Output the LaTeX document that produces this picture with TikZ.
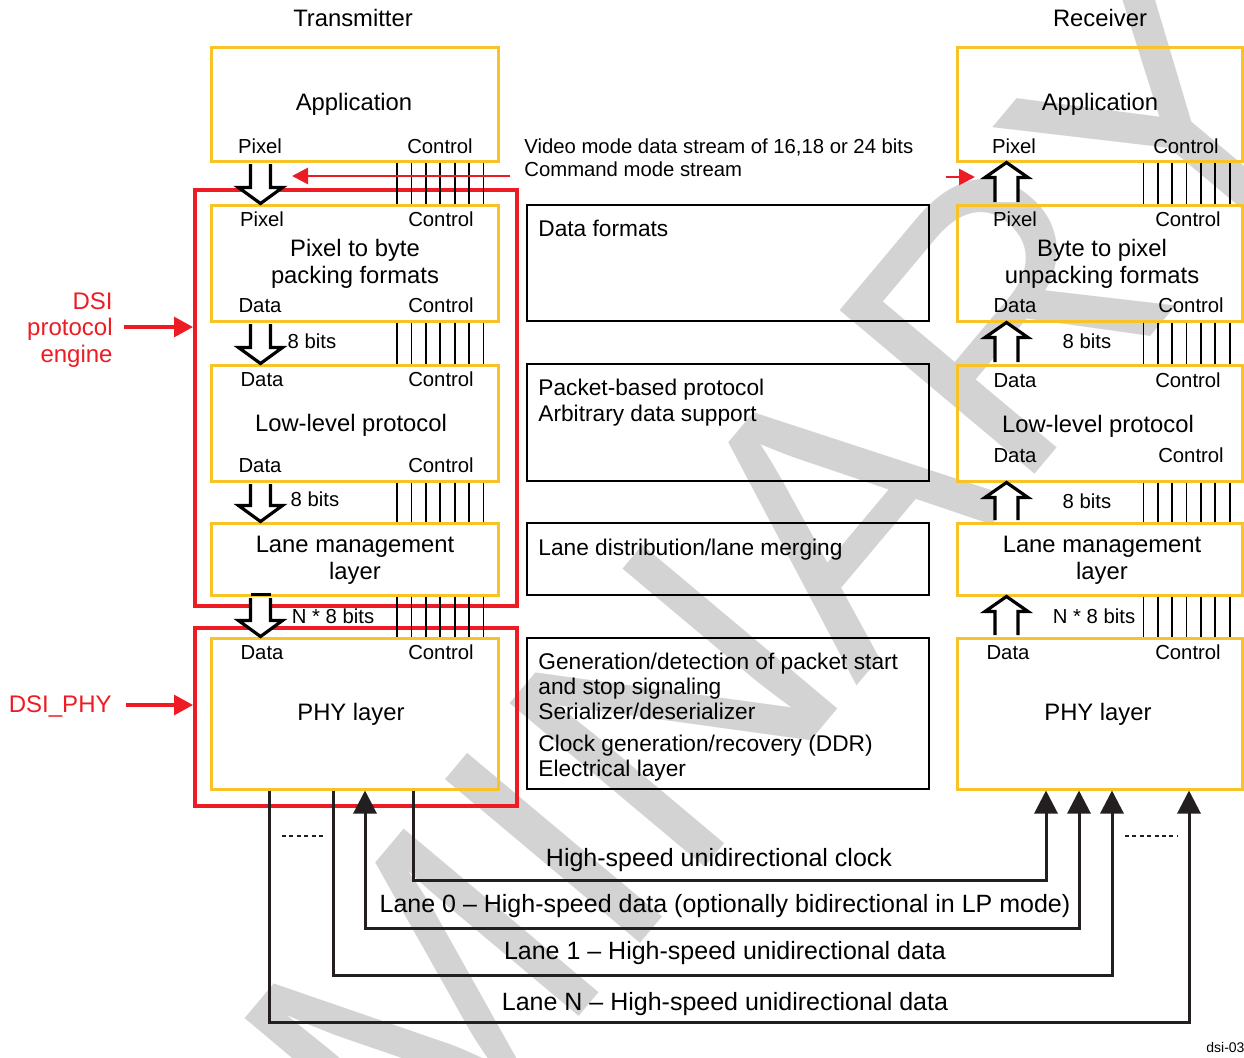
\documentclass[tikz,border=0pt]{standalone}
\usepackage{fontspec}
\setmainfont{Liberation Sans}
\usepackage{tikz}
\usetikzlibrary{arrows.meta,positioning,calc}
\definecolor{LayerYellow}{HTML}{F8C326}
\definecolor{EngineRed}{HTML}{ED1C24}
\definecolor{WireBlack}{HTML}{231F20}
\definecolor{MarkGray}{HTML}{D3D3D3}

\newcommand{\blkdown}[3]{%
  \draw[blk] ($(#1.south -| #3)+(-10,1.5)$) -- ($(#2.north -| #3)+(-10,-16)$) -- ($(#2.north -| #3)+(-22,-16)$) -- (#2.north -| #3) -- ($(#2.north -| #3)+(22,-16)$) -- ($(#2.north -| #3)+(10,-16)$) -- ($(#1.south -| #3)+(10,1.5)$);}
\newcommand{\blkup}[3]{%
  \draw[blk] ($(#1.north -| #3)+(-11.5,-1.5)$) -- ($(#2.south -| #3)+(-11.5,15)$) -- ($(#2.south -| #3)+(-21.5,15)$) -- (#2.south -| #3) -- ($(#2.south -| #3)+(21.5,15)$) -- ($(#2.south -| #3)+(11.5,15)$) -- ($(#1.north -| #3)+(11.5,-1.5)$);}

\begin{document}
\begin{tikzpicture}[x=0.5pt,y=-0.5pt,
  ybox/.style={draw=LayerYellow,line width=1.5pt,inner sep=0pt},
  tbox/.style={draw=black,line width=0.7pt,minimum width=201pt,inner sep=0pt},
  rbox/.style={draw=EngineRed,line width=2pt,minimum width=161pt,inner sep=0pt},
  lbl/.style={inner sep=0pt,anchor=base,font=\fontsize{10.15}{11.5}\selectfont},
  ttl/.style={inner sep=0pt,anchor=base,align=center,font=\fontsize{11.9}{13.5}\selectfont},
  desc/.style={inner sep=0pt,anchor=base west,align=left,font=\fontsize{11.35}{12.5}\selectfont},
  lane/.style={inner sep=0pt,anchor=base,font=\fontsize{12.5}{14}\selectfont},
  note/.style={inner sep=0pt,anchor=base east,align=right,text=EngineRed,font=\fontsize{12}{13.3}\selectfont},
  blk/.style={draw=black,fill=white,line width=1.6pt,line join=miter},
  ctl/.style={draw=black,line width=0.9pt},
  wire/.style={draw=WireBlack,line width=1.5pt},
  wtip/.style={arrows={-Triangle[length=11.5pt,width=11.5pt]}},
  wboth/.style={arrows={Triangle[length=11.5pt,width=11.5pt]-Triangle[length=11.5pt,width=11.5pt]}},
  redarr/.style={draw=EngineRed,line width=1.6pt,arrows={-Triangle[length=9.5pt,width=10pt]}},
  redsm/.style={draw=EngineRed,line width=1.4pt,arrows={-Triangle[length=8pt,width=8pt]}},
  dotl/.style={draw=WireBlack,line width=1pt,dash pattern=on 2pt off 1.7pt}
]
\useasboundingbox (0,0) rectangle (1244,1057);
\node[rotate=50,text=MarkGray,inner sep=0pt,font=\fontsize{185}{185}\selectfont] (wm) at (440,985) {PRELIMINARY};

\node[rbox,minimum height=208pt] (dsieng) at (356,398) {};
\node[rbox,minimum height=89pt] (dsiphy) at (356,717) {};

\node[ybox,minimum width=143.5pt,minimum height=57pt] (txapp) at (354.5,104) {};
\node[ybox,minimum width=143.5pt,minimum height=58pt] (txpack) at (354.5,263) {};
\node[ybox,minimum width=143.5pt,minimum height=58pt] (txllp) at (354.5,423) {};
\node[ybox,minimum width=143.5pt,minimum height=36pt] (txlane) at (354.5,559) {};
\node[ybox,minimum width=143.5pt,minimum height=75.5pt] (txphy) at (354.5,713.5) {};

\node[tbox,minimum height=58pt] (mfmt) at (728,263) {};
\node[tbox,minimum height=58.5pt] (mpkt) at (728,422.5) {};
\node[tbox,minimum height=36pt] (mlane) at (728,559) {};
\node[tbox,minimum height=75.5pt] (mphy) at (728,713.5) {};

\node[ybox,minimum width=142.5pt,minimum height=57pt] (rxapp) at (1099.5,104) {};
\node[ybox,minimum width=142.5pt,minimum height=58pt] (rxpack) at (1099.5,263) {};
\node[ybox,minimum width=142.5pt,minimum height=58pt] (rxllp) at (1099.5,423) {};
\node[ybox,minimum width=142.5pt,minimum height=36pt] (rxlane) at (1099.5,559) {};
\node[ybox,minimum width=142.5pt,minimum height=75.5pt] (rxphy) at (1099.5,713.5) {};

\foreach \a/\b in {txapp/txpack,txpack/txllp,txllp/txlane,txlane/txphy}{
  \foreach \i in {0,...,6}{
    \coordinate (cx) at ({397+14.4*\i},0);
    \draw[ctl] (\a.south -| cx) -- (\b.north -| cx);
  }
}
\foreach \a/\b in {rxapp/rxpack,rxpack/rxllp,rxllp/rxlane,rxlane/rxphy}{
  \foreach \i in {0,...,6}{
    \coordinate (cx) at ({1143.5+14.35*\i},0);
    \draw[ctl] (\a.south -| cx) -- (\b.north -| cx);
  }
}

\coordinate (txa) at (260.5,0);
\coordinate (rxa) at (1006.5,0);
\blkdown{txapp}{txpack}{txa}
\blkdown{txpack}{txllp}{txa}
\blkdown{txllp}{txlane}{txa}
\blkdown{txlane}{txphy}{txa}
\draw[blk] ($(txlane.south -| txa)+(-10,-2)$) -- ($(txlane.south -| txa)+(10,-2)$);
\blkup{rxpack}{rxapp}{rxa}
\blkup{rxllp}{rxpack}{rxa}
\blkup{rxlane}{rxllp}{rxa}
\blkup{rxphy}{rxlane}{rxa}

\node[ttl] (txtitle) at (353,26.5) {Transmitter};
\node[ttl] (rxtitle) at (1100,26.5) {Receiver};

\node[ttl] (txappt) at (354,110.5) {Application};
\node[lbl] (txp1) at (260,153) {Pixel};
\node[lbl] (txc1) at (440,153) {Control};
\node[lbl] (txp2) at (262,226) {Pixel};
\node[lbl] (txc2) at (441,226) {Control};
\node[ttl] (txpackt) at (355,283.5) {Pixel to byte\\packing formats};
\node[lbl] (txd3) at (260,312) {Data};
\node[lbl] (txc3) at (441,312) {Control};
\node[lbl] (txd4) at (262,386) {Data};
\node[lbl] (txc4) at (441,386) {Control};
\node[ttl] (txllpt) at (351,431.5) {Low-level protocol};
\node[lbl] (txd5) at (260,472) {Data};
\node[lbl] (txc5) at (441,472) {Control};
\node[ttl] (txlanet) at (355,579.5) {Lane management\\layer};
\node[lbl] (txd6) at (262,659) {Data};
\node[lbl] (txc6) at (441,659) {Control};
\node[ttl] (txphyt) at (351,720.5) {PHY layer};
\node[lbl] (txb1) at (312,348) {8 bits};
\node[lbl] (txb2) at (315,506) {8 bits};
\node[lbl] (txb3) at (333,623) {N * 8 bits};

\node[ttl] (rxappt) at (1100,110.5) {Application};
\node[lbl] (rxp1) at (1014,153) {Pixel};
\node[lbl] (rxc1) at (1186,153) {Control};
\node[lbl] (rxp2) at (1015,226) {Pixel};
\node[lbl] (rxc2) at (1188,226) {Control};
\node[ttl] (rxpackt) at (1102,283.5) {Byte to pixel\\unpacking formats};
\node[lbl] (rxd3) at (1015,312) {Data};
\node[lbl] (rxc3) at (1191,312) {Control};
\node[lbl] (rxd4) at (1015,387) {Data};
\node[lbl] (rxc4) at (1188,387) {Control};
\node[ttl] (rxllpt) at (1098,432.5) {Low-level protocol};
\node[lbl] (rxd5) at (1015,462) {Data};
\node[lbl] (rxc5) at (1191,462) {Control};
\node[ttl] (rxlanet) at (1102,579.5) {Lane management\\layer};
\node[lbl] (rxd6) at (1008,659) {Data};
\node[lbl] (rxc6) at (1188,659) {Control};
\node[ttl] (rxphyt) at (1098,720.5) {PHY layer};
\node[lbl] (rxb1) at (1087,348) {8 bits};
\node[lbl] (rxb2) at (1087,508) {8 bits};
\node[lbl] (rxb3) at (1094,623) {N * 8 bits};

\node[lbl,anchor=base west,align=left] (vidtxt) at (524,176) {Video mode data stream of 16,18 or 24 bits\\Command mode stream};
\node[desc] (fmttxt) at (538,236) {Data formats};
\node[desc] (pkttxt) at (538,421) {Packet-based protocol\\[0.5pt]Arbitrary data support};
\node[desc] (lanetxt) at (538,555) {Lane distribution/lane merging};
\node[desc] (gentxt) at (538,776) {Generation/detection of packet start\\and stop signaling\\Serializer/deserializer\\[3.5pt]Clock generation/recovery (DDR)\\Electrical layer};

\coordinate (vidin) at (510,176);
\coordinate (vidtip) at (292,176);
\draw[redsm] (vidin) -- (vidtip);
\coordinate (rxin) at (946,177);
\coordinate (rxtip) at (975,177);
\draw[redsm] (rxin) -- (rxtip);

\node[note] (engtxt) at (113,362.5) {DSI\\protocol\\engine};
\coordinate (engarr) at (124,327);
\draw[redarr] (engarr) -- (engarr -| dsieng.west);
\node[note] (phytxt) at (112,712.5) {DSI\_PHY};
\coordinate (phyarr) at (126,705);
\draw[redarr] (phyarr) -- (phyarr -| dsiphy.west);

\coordinate (clkT) at (413,0);
\coordinate (clkR) at (1046,0);
\coordinate (clkY) at (0,880);
\coordinate (l0T) at (365,0);
\coordinate (l0R) at (1079,0);
\coordinate (l0Y) at (0,928);
\coordinate (l1T) at (333,0);
\coordinate (l1R) at (1112,0);
\coordinate (l1Y) at (0,975);
\coordinate (lnT) at (269,0);
\coordinate (lnR) at (1189,0);
\coordinate (lnY) at (0,1022);
\draw[wire,wtip] (txphy.south -| clkT) |- (clkY -| clkR) -- (rxphy.south -| clkR);
\draw[wire,wboth] (txphy.south -| l0T) |- (l0Y -| l0R) -- (rxphy.south -| l0R);
\draw[wire,wtip] (txphy.south -| l1T) |- (l1Y -| l1R) -- (rxphy.south -| l1R);
\draw[wire,wtip] (txphy.south -| lnT) |- (lnY -| lnR) -- (rxphy.south -| lnR);
\draw[dotl] (282,836) -- (326,836);
\draw[dotl] (1125,836) -- (1177,836);

\node[lane] (clktxt) at (719,866) {High-speed unidirectional clock};
\node[lane] (l0txt) at (725,912) {Lane 0 -- High-speed data (optionally bidirectional in LP mode)};
\node[lane] (l1txt) at (725,959) {Lane 1 -- High-speed unidirectional data};
\node[lane] (lntxt) at (725,1010) {Lane N -- High-speed unidirectional data};
\node[inner sep=0pt,anchor=base west,font=\fontsize{7}{8}\selectfont] (figid) at (1206,1052) {dsi-033};
\end{tikzpicture}
\end{document}
